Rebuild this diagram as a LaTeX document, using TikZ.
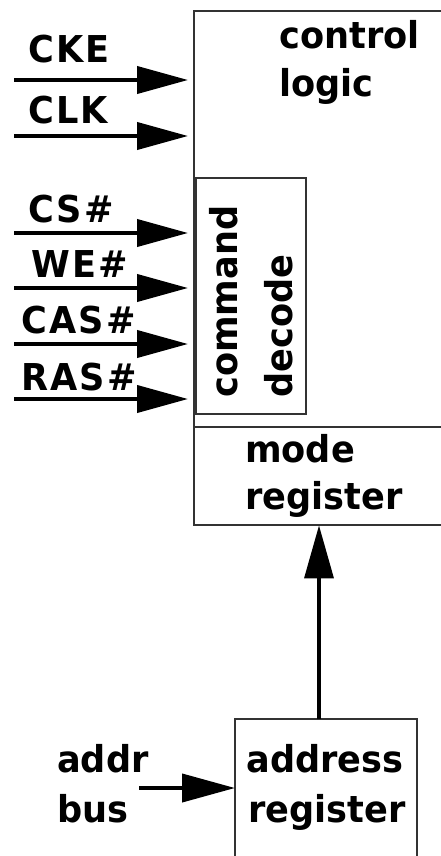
\documentclass[tikz,border=0pt]{standalone}
\usepackage{fontspec}
\setmainfont{DejaVu Sans}[FakeStretch=0.95]
\usetikzlibrary{arrows.meta,calc}
\tikzset{
  blk/.style={draw=black!80, line width=2pt, inner sep=0pt},
  area/.style={inner sep=0pt, anchor=north west},
  lbl/.style={inner sep=0pt, font=\fontsize{37}{44}\selectfont\bfseries},
  pin/.style={lbl, font=\fontsize{37}{44}\selectfont\bfseries\addfontfeatures{LetterSpace=6}},
  sig/.style={line width=4pt, -{Triangle[length=51pt,width=27pt]}, shorten >=6pt},
  bus/.style={line width=3.5pt, -{Triangle[length=53pt,width=29pt]}},
}
\begin{document}
\begin{tikzpicture}[x=1pt,y=-1pt]
\useasboundingbox (0,0) rectangle (441,856);

% blocks (the two wide ones run past the right edge)
\draw[blk] (194,11) rectangle (450,427);
\node[area, minimum width=256pt, minimum height=416pt] (ctrl) at (194,11) {};
\draw[blk] (194,427) rectangle (450,525);
\node[area, minimum width=256pt, minimum height=98pt] (mreg) at (194,427) {};
\node[blk, anchor=north west, minimum width=110pt, minimum height=236pt] (cmd) at (195,177) {};
\draw[blk] (235,719) rectangle (417,870);
\node[area, minimum width=182pt, minimum height=151pt] (areg) at (235,719) {};

% block titles
\node[lbl, anchor=base west] (t1) at (279,49) {control};
\node[lbl, anchor=base west] (t2) at (279,97) {logic};
\node[lbl, anchor=base west, rotate=90] (t3) at (237,398) {command};
\node[lbl, anchor=base west, rotate=90] (t4) at (292,398) {decode};
\node[lbl, anchor=base west] (t5) at (245,462) {mode};
\node[lbl, anchor=base west] (t6) at (245,509) {register};
\node[lbl, anchor=base] (t7) at (325,772) {address};
\node[lbl, anchor=base] (t8) at (327,822) {register};

% input signals
\foreach \name/\lx/\ly/\ay [count=\i] in {CKE/28/63/80, CLK/28/124/136, CS\#/28/222/233,
    WE\#/31/277/288, CAS\#/21/333/344, RAS\#/21/390/399}{
  \node[pin, anchor=base west] (s\i) at (\lx,\ly) {\name};
  \coordinate (p\i) at (14,\ay);
  \draw[sig] (p\i) -- (p\i -| ctrl.west);
}

% address path
\node[lbl, anchor=base west] (b1) at (57,772) {addr};
\node[lbl, anchor=base west] (b2) at (57,822) {bus};
\coordinate (bi) at (139,788);
\draw[line width=4pt, -{Triangle[length=53pt,width=28pt]}] (bi) -- (bi -| areg.west);
\coordinate (up) at (319,719);
\draw[bus] (up) -- (up |- mreg.south);
\end{tikzpicture}
\end{document}
